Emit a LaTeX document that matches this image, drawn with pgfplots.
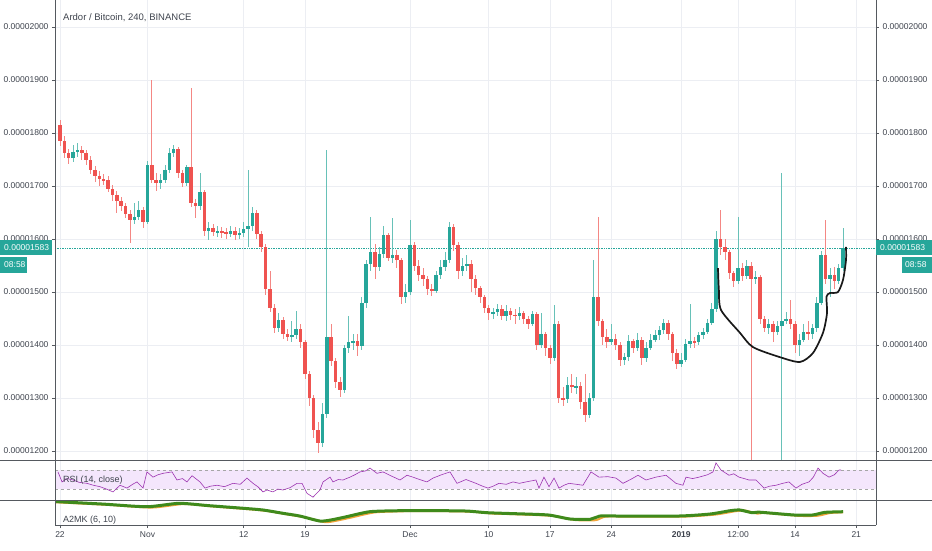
\documentclass[border=0pt]{standalone}
\usepackage{fontspec}
\setmainfont{Liberation Sans}
\usepackage{pgfplots}
\usepackage{pgfplotstable}
\pgfplotsset{compat=1.18}

\definecolor{upc}{HTML}{26A69A}
\definecolor{dnc}{HTML}{EF5350}
\definecolor{gridc}{HTML}{ECEEF3}
\definecolor{txt}{HTML}{3F444E}
\definecolor{rsic}{HTML}{9C33B0}
\definecolor{rsiband}{HTML}{F4E6FC}
\definecolor{agreen}{HTML}{3F8A1C}
\definecolor{aorange}{HTML}{F2A33A}
\definecolor{frame}{HTML}{55595F}

% 12h candles, d = days since 22 Oct, prices in satoshi (1e-8 BTC)
\pgfplotstableread{
d o h l c
0 1815 1825 1775 1785
0.5 1785 1795 1752 1762
1 1762 1770 1742 1752
1.5 1752 1778 1745 1765
2 1765 1782 1755 1768
2.5 1768 1776 1750 1762
3 1762 1768 1740 1750
3.5 1750 1756 1722 1730
4 1730 1738 1708 1718
4.5 1718 1728 1700 1713
5 1713 1722 1702 1711
5.5 1711 1718 1688 1695
6 1695 1702 1672 1683
6.5 1683 1690 1650 1672
7 1672 1680 1652 1662
7.5 1662 1668 1640 1648
8 1648 1655 1592 1635
8.5 1635 1668 1628 1642
9 1642 1672 1635 1655
9.5 1655 1660 1620 1633
10 1633 1748 1628 1740
10.5 1740 1900 1705 1712
11 1712 1725 1690 1706
11.5 1706 1722 1695 1712
12 1712 1740 1705 1730
12.5 1730 1772 1725 1762
13 1762 1778 1755 1770
13.5 1770 1774 1715 1725
14 1725 1730 1698 1706
14.5 1706 1740 1700 1736
15 1736 1885 1660 1668
15.5 1668 1675 1640 1662
16 1662 1725 1655 1688
16.5 1688 1692 1605 1615
17 1615 1632 1598 1620
17.5 1620 1628 1605 1613
18 1613 1625 1604 1615
18.5 1615 1622 1602 1612
19 1612 1620 1600 1610
19.5 1610 1624 1603 1615
20 1615 1622 1598 1608
20.5 1608 1620 1600 1612
21 1612 1632 1603 1618
21.5 1618 1730 1585 1625
22 1625 1660 1615 1650
22.5 1650 1655 1600 1610
23 1610 1615 1575 1585
23.5 1585 1590 1495 1505
24 1505 1540 1462 1470
24.5 1470 1478 1422 1432
25 1432 1460 1425 1448
25.5 1448 1452 1412 1420
26 1420 1430 1408 1415
26.5 1415 1445 1405 1418
27 1418 1465 1412 1430
27.5 1430 1440 1395 1405
28 1405 1410 1335 1345
28.5 1345 1350 1285 1300
29 1300 1305 1225 1240
29.5 1240 1255 1196 1215
30 1215 1290 1208 1270
30.5 1270 1768 1262 1415
31 1415 1440 1360 1370
31.5 1370 1375 1318 1330
32 1330 1340 1302 1315
32.5 1315 1400 1310 1395
33 1395 1455 1385 1405
33.5 1405 1420 1390 1408
34 1408 1420 1380 1398
34.5 1398 1490 1390 1480
35 1480 1560 1470 1552
35.5 1552 1641 1540 1575
36 1575 1590 1525 1548
36.5 1548 1585 1540 1572
37 1572 1625 1565 1608
37.5 1608 1612 1558 1565
38 1565 1640 1555 1570
38.5 1570 1580 1545 1560
39 1560 1565 1478 1490
39.5 1490 1515 1480 1500
40 1500 1635 1495 1588
40.5 1588 1595 1540 1550
41 1550 1560 1520 1532
41.5 1532 1545 1512 1525
42 1525 1530 1495 1505
42.5 1505 1515 1492 1502
43 1502 1540 1498 1532
43.5 1532 1560 1525 1548
44 1548 1575 1540 1560
44.5 1560 1632 1555 1622
45 1622 1628 1578 1588
45.5 1588 1595 1525 1540
46 1540 1565 1530 1550
46.5 1550 1570 1540 1552
47 1552 1560 1500 1525
47.5 1525 1532 1495 1508
48 1508 1512 1480 1490
48.5 1490 1495 1460 1470
49 1470 1475 1448 1460
49.5 1460 1470 1450 1462
50 1462 1478 1455 1468
50.5 1468 1475 1447 1455
51 1455 1475 1445 1465
51.5 1465 1470 1448 1457
52 1457 1468 1440 1455
52.5 1455 1472 1448 1460
53 1460 1465 1440 1450
53.5 1450 1455 1430 1440
54 1440 1465 1435 1458
54.5 1458 1462 1390 1400
55 1400 1460 1395 1420
55.5 1420 1425 1380 1395
56 1395 1400 1365 1375
56.5 1375 1475 1370 1440
57 1440 1445 1290 1300
57.5 1300 1320 1285 1298
58 1298 1340 1290 1325
58.5 1325 1345 1310 1320
59 1320 1340 1308 1322
59.5 1322 1330 1280 1292
60 1292 1345 1255 1268
60.5 1268 1310 1262 1300
61 1300 1560 1295 1490
61.5 1490 1641 1435 1445
62 1445 1450 1400 1415
62.5 1415 1430 1395 1405
63 1405 1440 1400 1412
63.5 1412 1420 1390 1400
64 1400 1405 1360 1372
64.5 1372 1385 1362 1378
65 1378 1418 1370 1408
65.5 1408 1412 1385 1395
66 1395 1422 1388 1410
66.5 1410 1415 1362 1375
67 1375 1405 1368 1395
67.5 1395 1420 1390 1410
68 1410 1428 1405 1418
68.5 1418 1435 1410 1428
69 1428 1450 1420 1442
69.5 1442 1448 1410 1420
70 1420 1425 1370 1385
70.5 1385 1392 1355 1365
71 1365 1385 1358 1372
71.5 1372 1412 1368 1402
72 1402 1478 1395 1408
72.5 1408 1415 1395 1405
73 1405 1425 1400 1418
73.5 1418 1432 1412 1425
74 1425 1450 1420 1442
74.5 1442 1480 1438 1468
75 1468 1615 1462 1600
75.5 1600 1655 1570 1585
76 1585 1600 1560 1575
76.5 1575 1580 1525 1535
77 1535 1540 1510 1520
77.5 1520 1641 1515 1545
78 1545 1555 1520 1530
78.5 1530 1560 1525 1550
79 1550 1556 1150 1525
79.5 1525 1540 1515 1528
80 1528 1532 1440 1450
80.5 1450 1455 1425 1432
81 1432 1450 1420 1440
81.5 1440 1445 1405 1425
82 1425 1445 1418 1435
82.5 1435 1725 1150 1445
83 1445 1462 1440 1450
83.5 1450 1485 1430 1440
84 1440 1445 1385 1400
84.5 1400 1420 1380 1410
85 1410 1440 1405 1425
85.5 1425 1445 1410 1420
86 1420 1440 1412 1432
86.5 1432 1490 1425 1480
87 1480 1578 1475 1570
87.5 1570 1636 1515 1525
88 1525 1545 1490 1532
88.5 1532 1548 1505 1520
89 1520 1552 1515 1545
89.5 1545 1621 1540 1583
}\candles

\pgfplotsset{
  panel/.style={
    anchor=south west, scale only axis, width=821pt,
    xmin=-0.571, xmax=93.26,
    xtick={0,10,21,28,40,49,56,63,71,77.5,84,91},
    xmajorgrids, grid style={gridc, line width=0.6pt},
    axis line style={draw=none},
    tick align=outside, major tick length=3pt,
    tick style={frame, line width=0.6pt},
    clip=true,
  },
  lab/.style={font=\fontsize{8.5}{10}\selectfont, text=txt},
  wick/.style={draw=none, mark=none, forget plot,
    error bars/.cd, y dir=both, y explicit, error mark=none,
    error bar style={draw=#1, line width=0.8pt}},
  body/.style={draw=none, mark=none, forget plot,
    error bars/.cd, y dir=both, y explicit, error mark=none,
    error bar style={draw=#1, line width=3.5pt}},
}

\begin{document}
\begin{tikzpicture}

% price panel
\begin{axis}[panel, at={(55pt,90pt)}, height=460pt,
  ymin=1183, ymax=2051,
  ytick={1200,1300,...,2000},
  yticklabels={0.00001200,0.00001300,0.00001400,0.00001500,0.00001600,0.00001700,0.00001800,0.00001900,0.00002000},
  ymajorgrids, ytick pos=left,
  xtick style={draw=none}, xticklabels={},
  yticklabel style={lab},
]
\addplot[upc, densely dotted, line width=0.7pt, forget plot] coordinates {(-0.571,1583) (93.26,1583)};
\addplot[wick=upc!70]
  table[x=d, y expr={\thisrow{c}>=\thisrow{o} ? 0.5*(\thisrow{h}+\thisrow{l}) : nan},
        y error expr={0.5*(\thisrow{h}-\thisrow{l})}] {\candles};
\addplot[wick=dnc!70]
  table[x=d, y expr={\thisrow{c}<\thisrow{o} ? 0.5*(\thisrow{h}+\thisrow{l}) : nan},
        y error expr={0.5*(\thisrow{h}-\thisrow{l})}] {\candles};
\addplot[body=upc]
  table[x=d, y expr={\thisrow{c}>=\thisrow{o} ? 0.5*(\thisrow{o}+\thisrow{c}) : nan},
        y error expr={max(0.5*abs(\thisrow{c}-\thisrow{o}),1.5)}] {\candles};
\addplot[body=dnc]
  table[x=d, y expr={\thisrow{c}<\thisrow{o} ? 0.5*(\thisrow{o}+\thisrow{c}) : nan},
        y error expr={max(0.5*abs(\thisrow{c}-\thisrow{o}),1.5)}] {\candles};
% hand-drawn cup
\addplot[black!90, line width=1.7pt, smooth, tension=0.45] coordinates {
  (75.2,1545) (75.3,1505) (75.55,1466) (77.71,1423) (79.2,1396) (82.29,1377)
  (84.57,1368) (86.06,1385) (87.2,1423) (87.66,1460) (87.6,1491) (88.0,1498)
  (88.91,1500) (89.49,1523) (89.83,1560) (89.83,1585)};
\end{axis}

% right price labels
\begin{axis}[panel, at={(55pt,90pt)}, height=460pt,
  ymin=1183, ymax=2051,
  ytick={1200,1300,...,2000},
  yticklabels={0.00001200,0.00001300,0.00001400,0.00001500,0.00001600,0.00001700,0.00001800,0.00001900,0.00002000},
  axis y line*=right, hide x axis, xmajorgrids=false,
  yticklabel style={lab},
]
\end{axis}

% RSI panel
\begin{axis}[panel, at={(55pt,50pt)}, height=40pt,
  ymin=7, ymax=91, ytick=\empty,
  xtick style={draw=none}, xticklabels={},
]
\addplot[fill=rsiband, draw=none] coordinates {(-0.571,30) (93.26,30) (93.26,70) (-0.571,70)} -- cycle;
\addplot[gray!70, dashed, line width=0.6pt] coordinates {(-0.571,70) (93.26,70)};
\addplot[gray!70, dashed, line width=0.6pt] coordinates {(-0.571,30) (93.26,30)};
\addplot[rsic, line width=0.6pt] coordinates {
(-0.23,66) (0.23,45) (0.8,52) (1.49,49) (2.2,44) (3.09,42) (3.8,38) (4.57,35) (5.3,30) (6.06,24)
(6.86,38) (7.66,32) (8.3,40) (8.8,45) (9.49,32) (9.94,66) (10.63,55) (11.2,60) (11.77,63) (12.8,66)
(13.37,49) (14.0,52) (14.51,45) (15.09,58) (16.0,45) (16.57,32) (17.2,36) (17.94,38) (18.8,35) (19.77,42)
(20.6,40) (21.37,53) (22.06,42) (22.6,35) (23.2,24) (23.66,28) (24.34,24) (24.9,30) (25.49,28) (26.3,33)
(27.09,42) (27.66,42) (28.23,21) (28.91,13) (29.71,28) (30.06,45) (30.86,55) (31.2,45) (31.8,50) (32.34,49)
(33.14,55) (33.7,60) (34.29,66) (34.9,68) (35.43,74) (36.23,63) (36.91,66) (37.8,58) (38.86,49) (39.66,59)
(40.34,55) (41.1,50) (41.94,45) (42.63,53) (43.6,60) (44.57,66) (45.37,42) (46.4,50) (47.54,42) (48.3,36)
(48.91,32) (49.5,36) (50.17,42) (51.0,40) (51.77,45) (52.5,42) (53.26,45) (54.4,49) (54.74,32) (55.31,55)
(55.89,35) (56.46,53) (57.03,32) (57.6,38) (58.17,42) (59.0,40) (59.77,38) (60.69,66) (61.6,55) (62.6,56)
(63.54,53) (64.34,42) (65.2,50) (66.06,59) (66.97,49) (68.1,55) (69.26,59) (70.4,42) (71.2,38) (71.54,55)
(72.3,52) (73.03,55) (74.0,60) (74.63,66) (74.97,85) (75.54,70) (76.46,59) (77.0,62) (77.6,55) (78.2,52)
(78.74,49) (79.54,49) (80.46,32) (81.1,36) (81.83,38) (82.6,42) (83.31,45) (84.11,32) (84.8,40) (85.6,45)
(86.1,55) (86.63,74) (87.2,63) (87.89,55) (88.5,60) (89.03,70) (89.26,70)};
\end{axis}

% A2MK panel
\begin{axis}[panel, at={(55pt,25pt)}, height=25pt,
  ymin=1150, ymax=1835, ytick=\empty, xtick pos=bottom,
  xticklabels={22,Nov,12,19,Dec,10,17,24,\textbf{2019},12:00,14,21},
  xticklabel style={lab},
]
\addplot[aorange, line width=2pt, smooth, tension=0.4] coordinates {
(-0.57,1772) (-0.23,1770) (5.6,1700) (10.5,1628) (14.2,1725) (17.6,1655) (21.6,1582) (23.8,1530)
(26.1,1435) (28.0,1360) (30.3,1228) (31.6,1268) (33.2,1350) (36.0,1496) (39.5,1528) (42.6,1532)
(47.0,1515) (49.4,1465) (52.6,1440) (56.4,1398) (58.9,1286) (61.2,1282) (62.3,1378) (64.6,1382)
(71.3,1380) (74.9,1436) (77.2,1528) (78.3,1546) (79.7,1462) (80.6,1480) (84.5,1400) (86.6,1404)
(88.0,1478) (89.5,1498)};
\addplot[agreen, line width=3pt, smooth, tension=0.4] coordinates {
(-0.57,1790) (-0.23,1788) (5,1722) (9.94,1651) (13.6,1744) (17,1680) (21,1607) (23.2,1561)
(25.5,1470) (27.4,1396) (29.7,1259) (31,1290) (32.6,1369) (35.4,1514) (38.9,1542) (42,1545)
(46.4,1533) (48.8,1487) (52,1460) (55.8,1424) (58.3,1314) (60.6,1306) (61.7,1396) (64,1396)
(70.7,1396) (74.3,1451) (76.6,1542) (77.7,1561) (79.1,1487) (80,1500) (83.9,1424) (86,1424)
(87.4,1496) (89.5,1514)};
\end{axis}

\begin{scope}[x=1pt,y=1pt]
% frame lines
\draw[frame, line width=0.9pt] (0,90) -- (932,90);
\draw[frame, line width=0.9pt] (0,50) -- (932,50);
\draw[frame, line width=0.9pt] (55,25) -- (876,25);
\draw[frame, line width=0.9pt] (55,25) -- (55,550);
\draw[frame, line width=0.9pt] (876,25) -- (876,550);

% texts
\node[anchor=base west, font=\fontsize{9.5}{11}\selectfont, text=txt, inner sep=0pt] at (63,529) {Ardor / Bitcoin, 240, BINANCE};
\node[anchor=base west, font=\fontsize{9}{11}\selectfont, text=txt, inner sep=0pt] at (63,68) {RSI (14, close)};
\node[anchor=base west, font=\fontsize{9}{11}\selectfont, text=txt, inner sep=0pt] at (63,28) {A2MK (6, 10)};

% last price tags
\fill[upc] (0,295) rectangle (52,310);
\node[anchor=west, font=\fontsize{8.5}{10}\selectfont, text=white, inner sep=0pt] at (4,302.5) {0.00001583};
\fill[upc] (0,277) rectangle (27,293);
\node[anchor=west, font=\fontsize{8.5}{10}\selectfont, text=white, inner sep=0pt] at (4,285) {08:58};
\fill[upc] (876,295) rectangle (932,310);
\node[anchor=west, font=\fontsize{8.5}{10}\selectfont, text=white, inner sep=0pt] at (880,302.5) {0.00001583};
\fill[upc] (902,277) rectangle (932,293);
\node[anchor=west, font=\fontsize{8.5}{10}\selectfont, text=white, inner sep=0pt] at (905,285) {08:58};

\pgfresetboundingbox
\path[use as bounding box] (0,0) rectangle (932,550);
\end{scope}
\end{tikzpicture}
\end{document}
